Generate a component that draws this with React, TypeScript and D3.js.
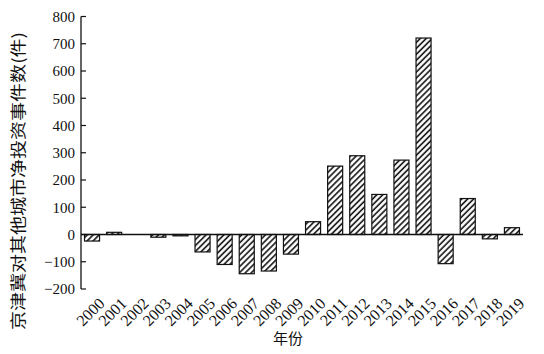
import React from "react";
import * as d3 from "d3";

const years = ["2000","2001","2002","2003","2004","2005","2006","2007","2008","2009","2010","2011","2012","2013","2014","2015","2016","2017","2018","2019"];
const values = [-24, 8, 0, -10, -5, -64, -110, -144, -134, -72, 47, 251, 289, 147, 273, 721, -107, 132, -16, 25];
const yTicks = [-200, -100, 0, 100, 200, 300, 400, 500, 600, 700, 800];

const W = 544, H = 354;
const left = 81, right = 523, top = 16.5, bottom = 289;

export default function App() {
  const x = d3.scaleBand<string>().domain(years).range([left, right]).paddingInner(0.32).paddingOuter(0.16);
  const y = d3.scaleLinear().domain([-200, 800]).range([bottom, top]);
  const serif = "'Liberation Serif', 'Times New Roman', serif";
  const cjk = "'Noto Sans CJK SC', sans-serif";
  return (
    <svg width={W} height={H} style={{ position: "absolute", left: 0, top: 0, background: "#fff" }}>
      <defs>
        <pattern id="hatch" patternUnits="userSpaceOnUse" width={4.2} height={4.2} patternTransform="rotate(45)">
          <rect width={4.2} height={4.2} fill="#fff" />
          <line x1={1} y1={0} x2={1} y2={4.2} stroke="#111" strokeWidth={1.6} />
        </pattern>
      </defs>
      {years.map((yr, i) => {
        const v = values[i];
        if (v === 0) return null;
        const y0 = y(0), y1 = y(v);
        return (
          <rect key={yr} x={x(yr)} y={Math.min(y0, y1)} width={x.bandwidth()} height={Math.abs(y1 - y0)}
            fill="url(#hatch)" stroke="#111" strokeWidth={1.2} />
        );
      })}
      <line x1={left} x2={right} y1={y(0)} y2={y(0)} stroke="#111" strokeWidth={1.3} />
      <line x1={left} x2={left} y1={top} y2={bottom} stroke="#111" strokeWidth={1.3} />
      {yTicks.map(t => (
        <g key={t}>
          <line x1={left} x2={left + 5} y1={y(t)} y2={y(t)} stroke="#111" strokeWidth={1.2} />
          <text x={left - 6} y={y(t)} dy="0.35em" textAnchor="end" fontFamily={serif} fontSize={15} fill="#111">
            {t < 0 ? "\u2212" + Math.abs(t) : t}
          </text>
        </g>
      ))}
      {years.map(yr => {
        const cx = (x(yr) as number) + x.bandwidth() / 2 + 5;
        const cy = bottom + 7;
        return (
          <text key={yr} transform={`translate(${cx},${cy}) rotate(-45)`} textAnchor="end" dy="0.75em"
            fontFamily={serif} fontSize={16} fill="#111">{yr}</text>
        );
      })}
      <text x={288} y={344} textAnchor="middle" fontFamily={cjk} fontSize={15} fill="#111">年份</text>
      <text transform={`translate(24,181) rotate(-90)`} textAnchor="middle" fontFamily={cjk} fontSize={16}
        textLength={298} lengthAdjust="spacingAndGlyphs" fill="#111">京津冀对其他城市净投资事件数(件)</text>
    </svg>
  );
}
